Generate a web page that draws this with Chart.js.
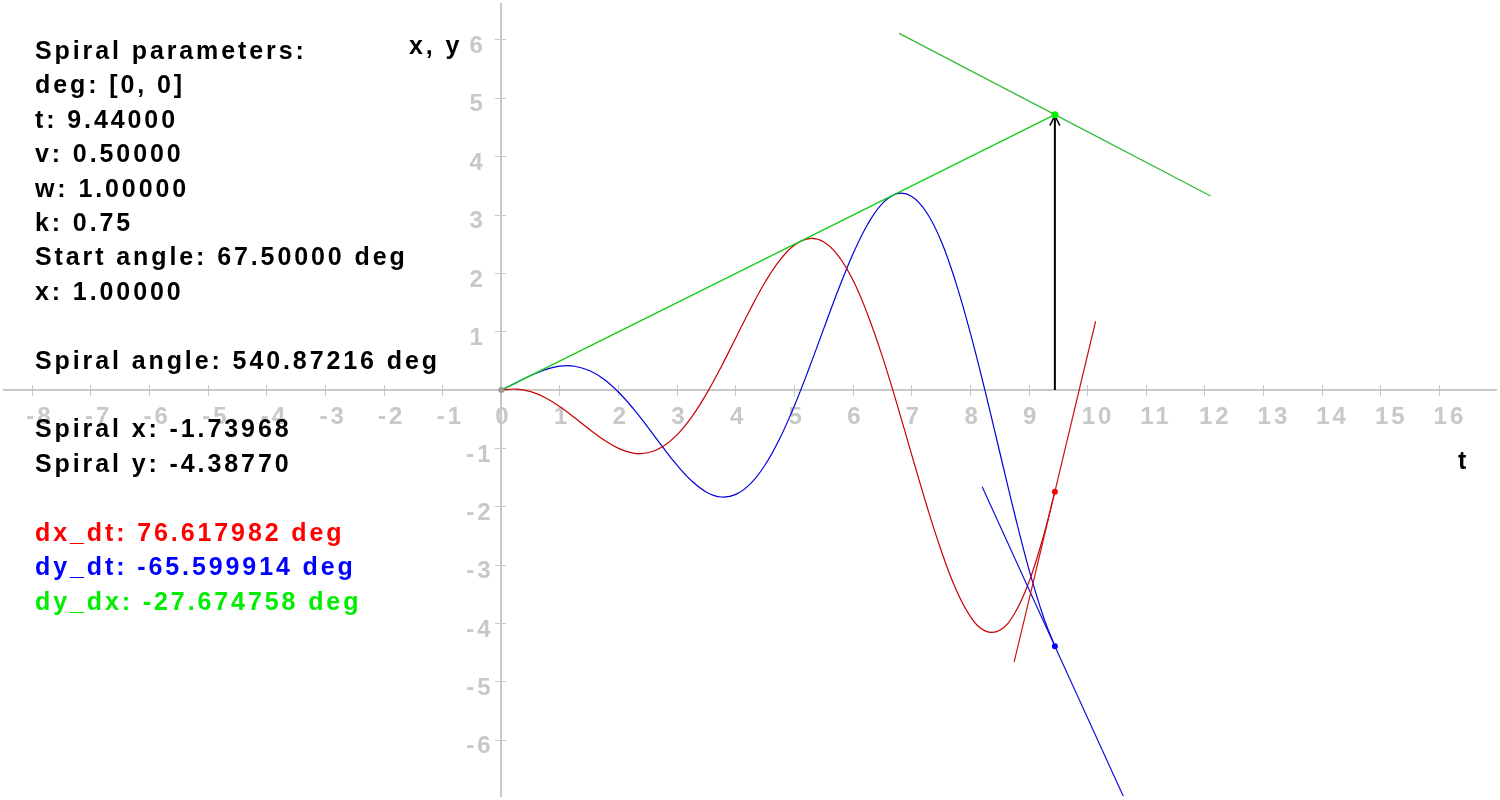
<!DOCTYPE html>
<html>
<head>
<meta charset="utf-8">
<script src="https://cdn.jsdelivr.net/npm/chart.js@4/dist/chart.umd.min.js"></script>
<style>
  body { margin: 0; background: #fff; }
  #wrap { position: relative; width: 1500px; height: 800px; }
  #chart { position: absolute; left: 0; top: 0; }
  .txt { position: absolute; font: bold 25px "Liberation Sans", Arial, sans-serif; letter-spacing: 2.9px; white-space: pre; line-height: 34.4px; color: #000; }
</style>
</head>
<body>
<div id="wrap">
  <canvas id="chart" width="1500" height="800"></canvas>
  <div class="txt" style="left:35px; top:33px;">Spiral parameters:
deg: [0, 0]
t: 9.44000
v: 0.50000
w: 1.00000
k: 0.75
Start angle: 67.50000 deg
x: 1.00000

Spiral angle: 540.87216 deg

Spiral x: -1.73968
Spiral y: -4.38770

<span style="color:#ff0000">dx_dt: 76.617982 deg</span>
<span style="color:#0000ff">dy_dt: -65.599914 deg</span>
<span style="color:#00ee00">dy_dx: -27.674758 deg</span></div>
  <div class="txt" style="left:409px; top:28px;">x, y</div>
  <div class="txt" style="left:1458px; top:443px;">t</div>
</div>
<script>
'use strict';

// samples of the spiral components
let tValues = [0, 0.25, 0.5, 0.75, 1, 1.25, 1.5, 1.75, 2, 2.25, 2.5, 2.75, 3, 3.25, 3.5, 3.75,
  4, 4.25, 4.5, 4.75, 5, 5.25, 5.5, 5.75, 6, 6.25, 6.5, 6.75, 7, 7.25, 7.5, 7.75,
  8, 8.25, 8.5, 8.75, 9, 9.25, 9.44];
let xValues = [0, 0.018, -0.027, -0.131, -0.285, -0.473, -0.671, -0.855, -0.999, -1.079, -1.074, -0.971,
  -0.764, -0.456, -0.060, 0.401, 0.898, 1.395, 1.852, 2.227, 2.486, 2.597, 2.538, 2.297,
  1.877, 1.288, 0.569, -0.250, -1.114, -1.964, -2.745, -3.407, -3.880, -4.125, -4.114, -3.833,
  -3.282, -2.484, -1.740];
let yValues = [0, 0.124, 0.249, 0.351, 0.411, 0.409, 0.335, 0.186, -0.037, -0.318, -0.639, -0.973,
  -1.291, -1.560, -1.749, -1.832, -1.787, -1.603, -1.279, -0.825, -0.262, 0.379, 1.058, 1.728,
  2.341, 2.847, 3.200, 3.366, 3.318, 3.047, 2.555, 1.846, 0.972, -0.014, -1.065, -2.110,
  -3.079, -3.901, -4.388];

// radius line and the three tangents
let radiusT = [0, 9.44];
let radiusY = [0, 4.72];
let tangentT = [6.784, 12.096];
let tangentY = [6.113, 3.327];
let dxTangentT = [8.745, 10.135];
let dxTangentY = [-4.66, 1.18];
let dyTangentT = [8.2, 10.68];
let dyTangentY = [-1.657, -7.12];
let arrowT = [9.44, 9.44];
let arrowY = [0, 4.72];

// marker points: radius end, spiral x, spiral y, origin
let markerT = [9.44, 9.44, 9.44, 0];
let markerY = [4.72, -1.7397, -4.3877, 0];

let xTickValues = [-8, -7, -6, -5, -4, -3, -2, -1, 0, 1, 2, 3, 4, 5, 6, 7, 8, 9, 10, 11, 12, 13, 14, 15, 16];
let yTickValues = [-6, -5, -4, -3, -2, -1, 0, 1, 2, 3, 4, 5, 6];
let xMin = -8.482, xMax = 16.963;
let yMin = -6.955, yMax = 6.616;

let axisColor = '#c8c8c8';
let fontFamily = '"Liberation Sans", Arial, sans-serif';

function toPoints(ts, vs) {
  return ts.map((t, i) => ({x: t, y: vs[i]}));
}

function lineSet(ts, vs, color, width) {
  return {
    data: toPoints(ts, vs),
    showLine: true,
    borderColor: color,
    borderWidth: width,
    pointRadius: 0,
    tension: 0.4
  };
}

function noPadding(scale) {
  scale.paddingLeft = 0;
  scale.paddingRight = 0;
  scale.paddingTop = 0;
  scale.paddingBottom = 0;
}

// y labels are right aligned on the axis, thin spaces push them left
function yLabel(v) {
  if (v === 0) return '';
  return v < 0 ? String(v) + '\u2009' : String(v) + '\u2009\u2009';
}

let arrowHead = {
  id: 'arrowHead',
  beforeDraw(chart) {
    chart.ctx.letterSpacing = '3px';
  },
  afterDatasetDraw(chart, args) {
    if (args.index !== 1) return;
    let tip = args.meta.data[1];
    let ctx = chart.ctx;
    ctx.save();
    ctx.strokeStyle = '#000';
    ctx.lineWidth = 1.5;
    ctx.beginPath();
    ctx.moveTo(tip.x - 5, tip.y + 11);
    ctx.lineTo(tip.x, tip.y + 1);
    ctx.lineTo(tip.x + 5, tip.y + 11);
    ctx.stroke();
    ctx.restore();
  }
};

let ctx = document.getElementById('chart').getContext('2d');

let chart = new Chart(ctx, {
  type: 'scatter',
  data: {
    datasets: [
      {
        data: toPoints(markerT, markerY),
        pointRadius: [3.5, 3, 3, 3],
        pointBackgroundColor: ['#00ee00', '#ff0000', '#0000ff', '#999999'],
        pointBorderWidth: 0
      },
      lineSet(arrowT, arrowY, '#000000', 2),
      lineSet(radiusT, radiusY, '#11cc11', 1.2),
      lineSet(tangentT, tangentY, '#33bb33', 1.2),
      lineSet(dxTangentT, dxTangentY, '#cc1111', 1.2),
      lineSet(dyTangentT, dyTangentY, '#1111dd', 1.2),
      lineSet(tValues, xValues, '#c80000', 1.2),
      lineSet(tValues, yValues, '#0000dd', 1.2)
    ]
  },
  options: {
    responsive: false,
    animation: false,
    events: [],
    layout: {padding: 0},
    plugins: {legend: {display: false}, tooltip: {enabled: false}},
    scales: {
      x: {
        type: 'linear', axis: 'x', position: {y: 0}, min: xMin, max: xMax,
        afterBuildTicks: s => { s.ticks = xTickValues.map(v => ({value: v})); },
        afterFit: noPadding,
        border: {display: true, color: axisColor, width: 2},
        grid: {drawOnChartArea: false, color: axisColor, lineWidth: 1, tickLength: 5},
        ticks: {
          align: 'start', labelOffset: -6, padding: 8, autoSkip: false, maxRotation: 0,
          color: axisColor, font: {family: fontFamily, size: 24, weight: 'bold'},
          callback: v => String(v)
        }
      },
      y: {
        type: 'linear', axis: 'y', position: {x: 0}, min: yMin, max: yMax,
        afterBuildTicks: s => { s.ticks = yTickValues.map(v => ({value: v})); },
        afterFit: noPadding,
        border: {display: true, color: axisColor, width: 2},
        grid: {drawOnChartArea: false, color: axisColor, lineWidth: 1, tickLength: 5},
        ticks: {
          labelOffset: 6.5, padding: 6, autoSkip: false,
          color: axisColor, font: {family: fontFamily, size: 24, weight: 'bold'},
          callback: yLabel
        }
      },
      x2: {
        type: 'linear', axis: 'x', position: {y: 0}, min: xMin, max: xMax,
        afterBuildTicks: s => { s.ticks = xTickValues.map(v => ({value: v})); },
        afterFit: noPadding,
        border: {display: false},
        grid: {drawOnChartArea: false, color: axisColor, lineWidth: 1, tickLength: -5},
        ticks: {display: false}
      },
      y2: {
        type: 'linear', axis: 'y', position: {x: 0}, min: yMin, max: yMax,
        afterBuildTicks: s => { s.ticks = yTickValues.map(v => ({value: v})); },
        afterFit: noPadding,
        border: {display: false},
        grid: {drawOnChartArea: false, color: axisColor, lineWidth: 1, tickLength: -5},
        ticks: {display: false}
      }
    }
  },
  plugins: [arrowHead]
});
</script>
</body>
</html>
